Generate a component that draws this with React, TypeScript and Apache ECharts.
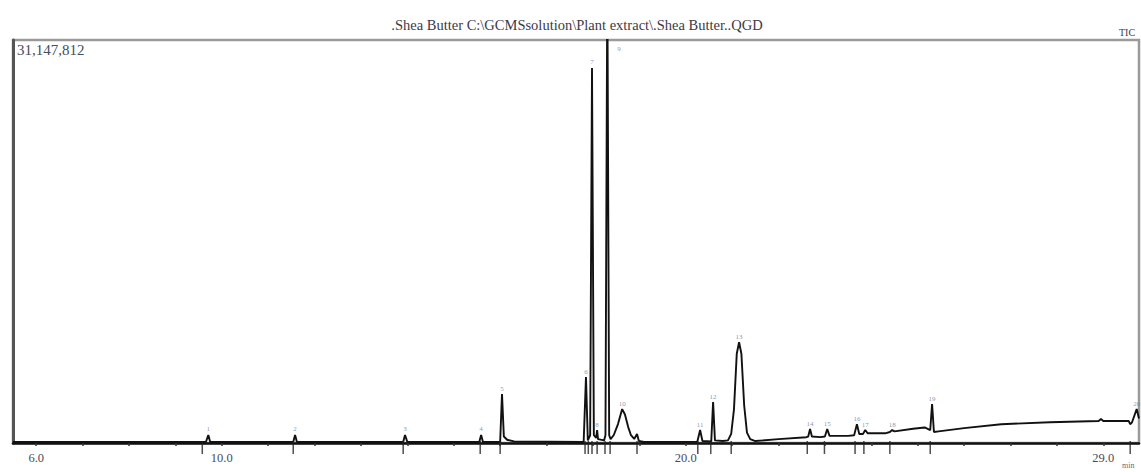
import React, { useEffect, useRef } from "react";
import * as echarts from "echarts";

const titleText = ".Shea Butter C:\\GCMSsolution\\Plant extract\\.Shea Butter..QGD";
const maxIntensityLabel = "31,147,812";
const yMaxMillions = 31.147812;

// x axis (retention time, min)
const xMin = 5.5;
const xMax = 29.77;
const tickValues = [6, 7, 8, 9, 10, 11, 12, 13, 14, 15, 16, 17, 18, 19, 20, 21, 22, 23, 24, 25, 26, 27, 28, 29];
const labelValues = [6, 10, 20, 29];

// TIC trace: [time (min), intensity (millions of counts)]
const trace: [number, number][] = [
  [5.5, 0.08], [9.62, 0.08], [9.66, 0.1], [9.71, 0.62], [9.75, 0.08],
  [11.54, 0.08], [11.58, 0.62], [11.62, 0.08],
  [13.91, 0.08], [13.95, 0.62], [14.0, 0.08],
  [15.55, 0.08], [15.59, 0.62], [15.63, 0.08],
  [16.0, 0.08], [16.04, 3.78], [16.08, 0.5], [16.15, 0.25], [16.3, 0.12],
  [17.8, 0.08], [17.85, 5.09], [17.89, 0.2], [17.94, 0.6], [17.98, 28.99], [18.02, 0.6],
  [18.07, 0.4], [18.09, 1.0], [18.11, 0.3], [18.24, 0.2], [18.27, 0.6], [18.31, 36.0],
  [18.35, 0.6], [18.38, 0.3], [18.45, 0.62], [18.54, 1.46], [18.63, 2.62], [18.69, 2.2],
  [18.76, 1.23], [18.82, 0.6], [18.89, 0.31], [18.95, 0.69], [18.99, 0.15], [19.1, 0.08],
  [20.25, 0.1], [20.31, 1.0], [20.36, 0.15], [20.55, 0.12], [20.59, 3.16], [20.63, 0.2],
  [20.8, 0.15], [20.91, 0.2], [20.98, 0.7], [21.04, 2.6], [21.1, 6.9], [21.15, 7.79],
  [21.2, 6.9], [21.26, 2.9], [21.32, 0.8], [21.39, 0.3], [21.5, 0.15],
  [22.0, 0.3], [22.6, 0.45], [22.64, 0.5], [22.68, 1.08], [22.72, 0.5], [22.9, 0.45],
  [23.0, 0.5], [23.05, 1.08], [23.1, 0.55], [23.5, 0.55], [23.63, 0.6], [23.69, 1.46],
  [23.74, 0.7], [23.82, 0.7], [23.87, 1.0], [23.92, 0.75], [24.3, 0.75], [24.4, 0.85],
  [24.45, 1.0], [24.5, 0.9], [24.9, 1.1], [25.15, 1.2], [25.27, 1.0], [25.31, 3.01],
  [25.35, 0.85], [25.45, 0.9], [26.0, 1.15], [26.8, 1.45], [27.85, 1.6], [28.9, 1.7],
  [28.95, 1.85], [29.0, 1.7], [29.55, 1.7], [29.58, 1.45], [29.62, 1.6], [29.72, 2.62],
  [29.77, 1.9],
];

// integration markers along the baseline
const markerTimes = [9.58, 11.54, 13.91, 15.57, 16.0, 17.83, 17.9, 17.98, 18.09, 18.26, 18.37, 18.95,
  20.26, 20.54, 20.98, 22.62, 22.99, 23.65, 23.84, 24.4, 25.27, 29.58];

// peak numbers
const peakNumbers = ["1", "2", "3", "4", "5", "6", "7", "8", "9", "10", "11", "12", "13", "14", "15", "16", "17", "18", "19", "20"];
const peakTimes = [9.71, 11.58, 13.95, 15.59, 16.04, 17.85, 17.98, 18.09, 18.56, 18.63, 20.31, 20.59, 21.15, 22.68, 23.05, 23.69, 23.87, 24.45, 25.31, 29.72];
const peakHeights = [0.62, 0.62, 0.62, 0.62, 3.78, 5.09, 28.99, 1.0, 30.0, 2.62, 1.0, 3.16, 7.79, 1.08, 1.08, 1.46, 1.0, 1.0, 3.01, 2.62];

export default function App() {
  const ref = useRef<HTMLDivElement>(null);
  useEffect(() => {
    if (!ref.current) return;
    const chart = echarts.init(ref.current, undefined, { renderer: "svg" });
    const font = "'Liberation Serif', 'DejaVu Serif', serif";
    chart.setOption({
      animation: false,
      backgroundColor: "#ffffff",
      title: {
        text: titleText,
        left: 572,
        textAlign: "center",
        top: 12,
        textStyle: { fontFamily: font, fontSize: 14.5, fontWeight: "normal", color: "#3a3a48" },
      },
      grid: {
        left: 13, right: 2, top: 40, bottom: 29,
        show: true, borderColor: "#9a9a9a", borderWidth: 2.5, backgroundColor: "transparent",
      },
      xAxis: {
        type: "value",
        min: xMin,
        max: xMax,
        axisLine: { show: true, lineStyle: { color: "#111", width: 2.5 } },
        axisTick: { show: true, customValues: tickValues, length: 3, lineStyle: { color: "#333", width: 1.5 } },
        axisLabel: {
          show: true,
          customValues: labelValues,
          formatter: (v: number) => v.toFixed(1),
          fontFamily: font,
          fontSize: 12.5,
          color: "#4a4a5a",
          margin: 8,
        },
        splitLine: { show: false },
      },
      yAxis: {
        type: "value",
        min: 0,
        max: yMaxMillions,
        axisLine: { show: true, lineStyle: { color: "#555", width: 3 } },
        axisTick: { show: false },
        axisLabel: { show: false },
        splitLine: { show: false },
      },
      graphic: [
        { type: "text", left: 17, top: 42, style: { text: maxIntensityLabel, fontFamily: font, fontSize: 15, fill: "#4a4a5a" } },
        { type: "text", left: 1119, top: 27, style: { text: "TIC", fontFamily: font, fontSize: 10, fill: "#3a3a48" } },
        { type: "text", left: 1122, top: 461, style: { text: "min", fontFamily: font, fontSize: 8, fill: "#6a6a7a" } },
      ],
      series: [
        {
          type: "line",
          data: trace,
          showSymbol: false,
          lineStyle: { color: "#111", width: 1.9 },
          clip: true,
          z: 3,
        },
        {
          type: "scatter",
          data: markerTimes.map((t) => [t, -0.35]),
          symbol: "rect",
          symbolSize: [1.5, 13],
          itemStyle: { color: "#222" },
          clip: false,
          silent: true,
          z: 4,
        },
        {
          type: "scatter",
          data: peakTimes.map((t, i) => ({ value: [t, peakHeights[i]], name: peakNumbers[i] })),
          symbolSize: 0,
          clip: false,
          silent: true,
          label: {
            show: true,
            position: "top",
            distance: 2,
            formatter: (p: any) => p.name,
            fontFamily: font,
            fontSize: 7,
            color: "#6a7a9a",
          },
          z: 5,
        },
      ],
    });
    return () => chart.dispose();
  }, []);
  return <div ref={ref} style={{ position: "fixed", left: 0, top: 0, width: 1141, height: 472 }} />;
}
